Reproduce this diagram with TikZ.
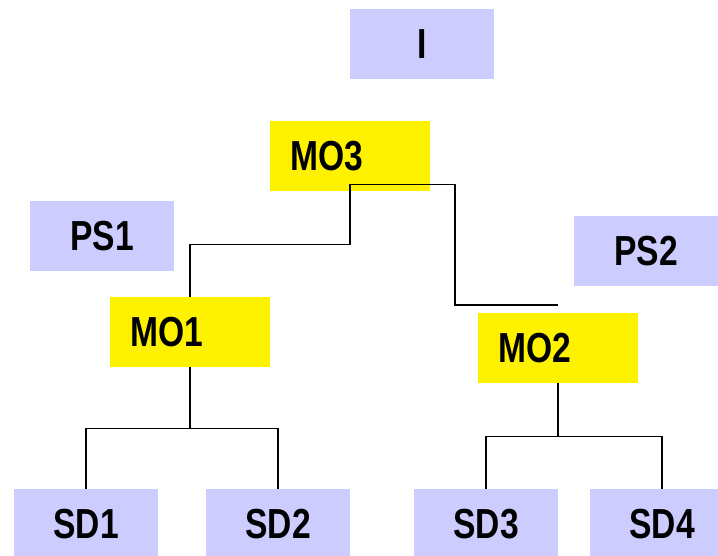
\documentclass[tikz,border=0pt]{standalone}
\usepackage{fontspec}
\setmainfont{Liberation Sans}[FakeStretch=0.8]
\begin{document}
\begin{tikzpicture}[x=1pt,y=-1pt,
  every node/.append style={font=\fontsize{42}{46}\selectfont\bfseries},
  lila/.style={fill=blue!20, minimum width=144pt, minimum height=70pt, inner sep=0pt, anchor=north west},
  gelb/.style={fill=yellow, text width=120pt, inner xsep=20pt, inner ysep=0pt, minimum height=70pt, align=left, anchor=north west}]
\clip (0,0) rectangle (718,556);
\node[lila] (i) at (350,9) {I};
\node[gelb] (mo3) at (270,121) {MO3};
\node[lila] (ps1) at (30,201) {PS1};
\node[lila] (ps2) at (574,216) {PS2};
\node[gelb] (mo1) at (110,297) {MO1};
\node[gelb] (mo2) at (478,313) {MO2};
\foreach \n/\x in {1/14,2/206,3/414,4/590} \node[lila] (sd\n) at (\x,489) {SD\n};
\draw[line width=1.6pt] ([yshift=7pt]mo3.south) coordinate (m3) -- ++(0,60) -| (mo1.north);
\draw[line width=1.6pt] (m3) -- ++(105,0) |- ([yshift=8pt]mo2.north);
\draw[line width=1.6pt] (mo1.south) -- ++(0,61) coordinate (k1);
\draw[line width=1.6pt] (sd1.north) |- (k1) -| (sd2.north);
\draw[line width=1.6pt] (mo2.south) -- ++(0,53) coordinate (k2);
\draw[line width=1.6pt] (sd3.north) |- (k2) -| (sd4.north);
\end{tikzpicture}
\end{document}
